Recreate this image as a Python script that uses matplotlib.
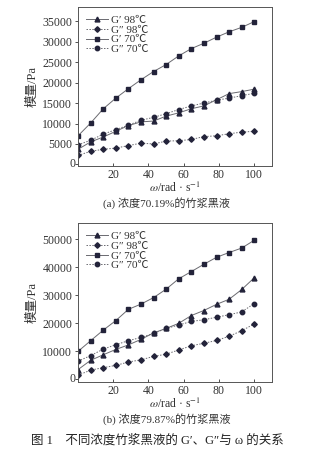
import matplotlib
matplotlib.use("Agg")
import matplotlib.pyplot as plt

plt.rcParams["font.family"] = ["Liberation Serif", "Noto Sans CJK SC"]
plt.rcParams["mathtext.fontset"] = "stix"
plt.rcParams["axes.unicode_minus"] = False

# angular frequency, rad/s
omega = [0.1, 7.2, 14.4, 21.5, 28.6, 35.8, 42.9, 50.0, 57.1, 64.3, 71.4, 78.6, 85.7, 92.9, 100.0]

# (a) 70.19 % black liquor, Pa
a_g1_98 = [3700, 5500, 6700, 8100, 9500, 10400, 10600, 11800, 12600, 13600, 14300, 15800, 17300, 17800, 18400]
a_g2_98 = [2200, 3200, 3700, 4000, 4600, 5200, 5000, 5700, 5800, 6100, 6800, 7000, 7500, 7900, 8100]
a_g1_70 = [7000, 10100, 13600, 16200, 18500, 20700, 22700, 24400, 26500, 28300, 29600, 31100, 32400, 33500, 34900]
a_g2_70 = [4800, 5900, 7400, 8500, 9600, 10800, 11500, 12400, 13400, 14300, 15000, 15700, 16200, 16800, 17400]

# (b) 79.87 % black liquor, Pa
b_g1_98 = [3500, 6800, 8800, 10700, 12300, 14300, 16600, 18200, 20000, 22800, 24600, 26800, 28600, 32100, 36300]
b_g2_98 = [1500, 3300, 4200, 5000, 6200, 7000, 8200, 9000, 10500, 12000, 12900, 13900, 15400, 17400, 19800]
b_g1_70 = [10000, 13800, 17600, 21000, 25000, 26900, 29200, 32200, 35900, 38500, 41100, 43600, 45300, 46900, 49700]
b_g2_70 = [6500, 8500, 10800, 12400, 13800, 15000, 16400, 18200, 19400, 20700, 21300, 22200, 23100, 24100, 27100]

labels = ["G\u2032 98\u2103", "G\u2033 98\u2103", "G\u2032 70\u2103", "G\u2033 70\u2103"]
yticks_a = [0, 5000, 10000, 15000, 20000, 25000, 30000, 35000]
yticks_b = [0, 10000, 20000, 30000, 40000, 50000]

LINE = "#6a6a70"
MARK = "#23233a"
TXT = "#333333"
FS = 8.5


def draw_panel(ax, series, yticks, ylim):
    styles = [
        dict(marker="^", ls="-", ms=3.5),
        dict(marker="D", ls=(0, (1.5, 1.5)), ms=2.8),
        dict(marker="s", ls="-", ms=3.2),
        dict(marker="o", ls=(0, (1.5, 1.5)), ms=3.2),
    ]
    for y, lab, st in zip(series, labels, styles):
        ax.plot(omega, y, color=LINE, lw=0.7, mfc=MARK, mec=MARK, label=lab, **st)
    ax.set_xlim(0, 110)
    ax.set_ylim(*ylim)
    ax.set_xticks([20, 40, 60, 80, 100])
    ax.set_yticks(yticks)
    ax.set_yticklabels([""] + [str(v) for v in yticks[1:]])
    ax.tick_params(axis="x", direction="in", length=2.5, width=0.6, labelsize=FS,
                   colors=TXT, pad=2)
    ax.tick_params(axis="y", direction="out", length=2.5, width=0.6, labelsize=FS,
                   colors=TXT, pad=1.5)
    ax.text(-1.5, 0, "0", ha="right", va="center", fontsize=FS, color=TXT)
    for sp in ax.spines.values():
        sp.set_color("#555555")
        sp.set_linewidth(0.7)
    ax.set_ylabel("模量/Pa", fontsize=9, color=TXT, labelpad=3)
    ax.set_xlabel("$\\omega$/rad \u00b7 s$^{-1}$", fontsize=FS, color=TXT, labelpad=0)
    ax.legend(loc="upper left", frameon=False, fontsize=8, handlelength=2.0,
              handletextpad=0.3, labelspacing=0.0, borderaxespad=0.3,
              labelcolor=TXT)


fig = plt.figure(figsize=(3.3, 4.55), dpi=100)
ax_a = fig.add_axes([0.236, 0.635, 0.588, 0.349])
ax_b = fig.add_axes([0.236, 0.160, 0.588, 0.349])

draw_panel(ax_a, [a_g1_98, a_g2_98, a_g1_70, a_g2_70], yticks_a, (-400, 38400))
draw_panel(ax_b, [b_g1_98, b_g2_98, b_g1_70, b_g2_70], yticks_b, (-1000, 55700))

fig.text(0.505, 0.554, "(a) 浓度70.19%的竹浆黑液", ha="center", va="center",
         fontsize=8, color=TXT)
fig.text(0.505, 0.079, "(b) 浓度79.87%的竹浆黑液", ha="center", va="center",
         fontsize=8, color=TXT)
fig.text(0.094, 0.033, "图 1    不同浓度竹浆黑液的 G\u2032、G\u2033与 \u03c9 的关系",
         ha="left", va="center", fontsize=9, color="#222222")

fig.savefig("out.png", dpi=100)
